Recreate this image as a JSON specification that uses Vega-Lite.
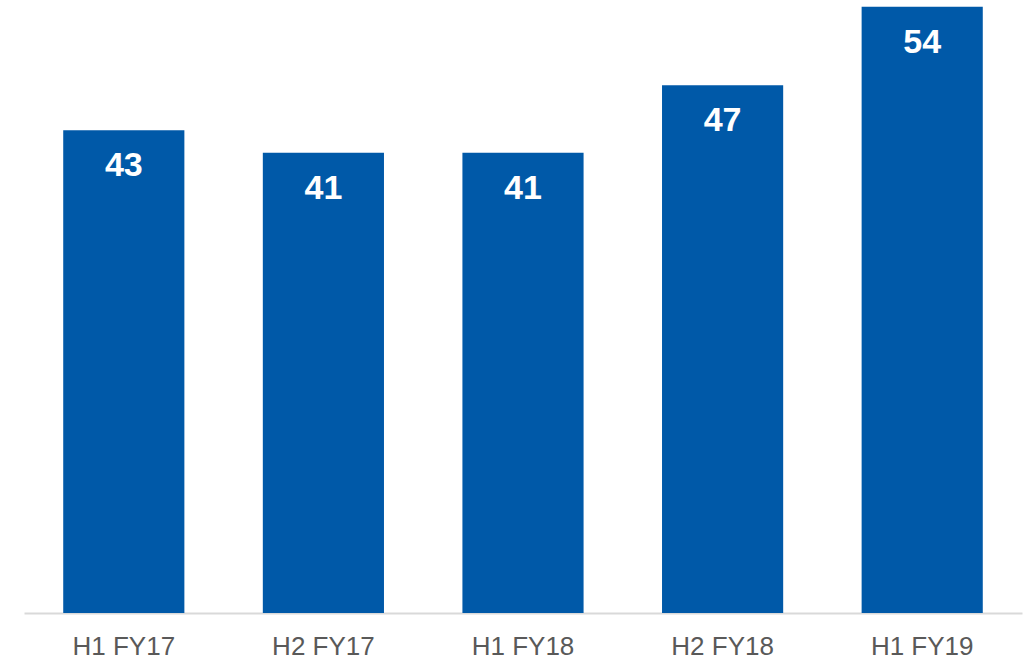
{
  "$schema": "https://vega.github.io/schema/vega-lite/v6.json",
  "autosize": {"type": "none"},
  "width": 998,
  "height": 613,
  "padding": {"left": 24, "top": 0, "right": 4, "bottom": 46},
  "background": "white",
  "config": {"view": {"stroke": null}},
  "data": {
    "values": [
      {"period": "H1 FY17", "value": 43},
      {"period": "H2 FY17", "value": 41},
      {"period": "H1 FY18", "value": 41},
      {"period": "H2 FY18", "value": 47},
      {"period": "H1 FY19", "value": 54}
    ]
  },
  "encoding": {
    "x": {
      "field": "period",
      "type": "nominal",
      "sort": null,
      "scale": {"paddingInner": 0.393, "paddingOuter": 0.1965},
      "axis": {
        "title": null,
        "labelAngle": 0,
        "ticks": false,
        "grid": false,
        "domainColor": "#D9D9D9",
        "domainWidth": 2,
        "labelFont": "Liberation Sans",
        "labelFontSize": 26,
        "labelColor": "#595959",
        "labelPadding": 20
      }
    },
    "y": {
      "field": "value",
      "type": "quantitative",
      "scale": {"domain": [0, 54.6], "nice": false, "zero": true},
      "axis": null
    }
  },
  "layer": [
    {"mark": {"type": "bar", "color": "#0059A8"}},
    {
      "mark": {
        "type": "text",
        "color": "white",
        "font": "Liberation Sans",
        "fontWeight": "bold",
        "fontSize": 34,
        "baseline": "middle",
        "align": "center",
        "dy": 36
      },
      "encoding": {"text": {"field": "value", "type": "quantitative"}}
    }
  ]
}
